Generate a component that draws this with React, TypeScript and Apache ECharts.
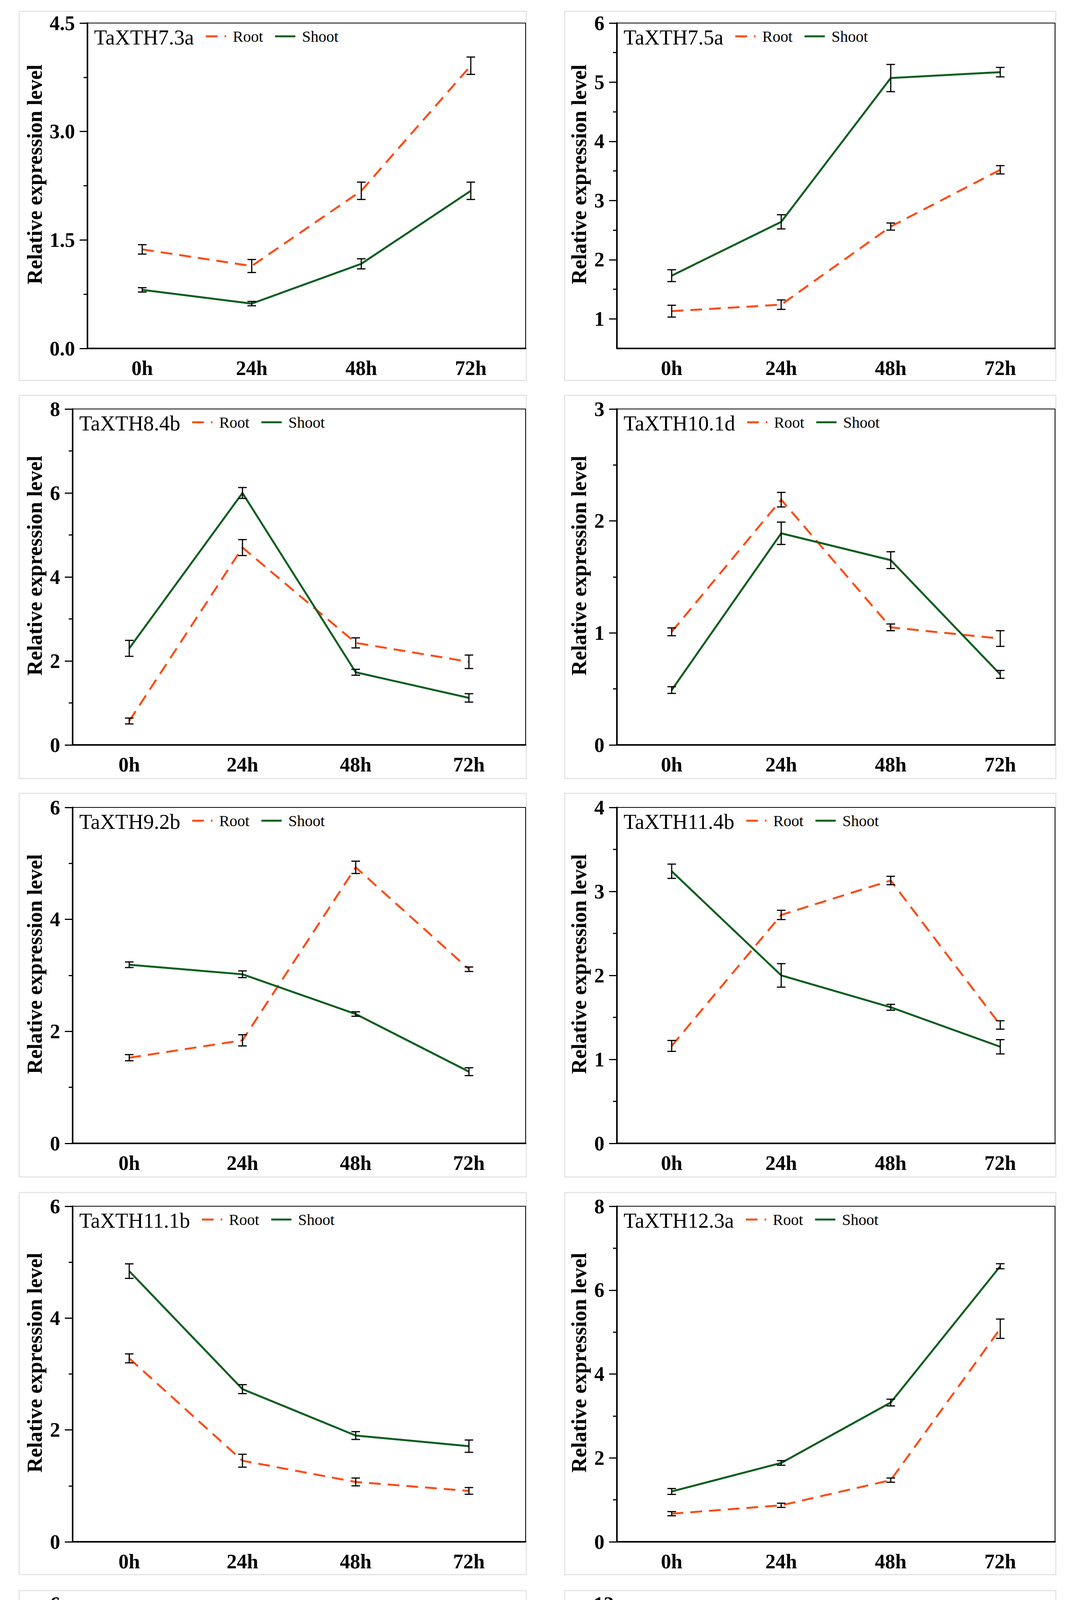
import React, { useEffect, useRef } from "react";
import * as echarts from "echarts";

// ---------- data ----------
const categories = ["0h", "24h", "48h", "72h"];
const seriesNames = ["Root", "Shoot"];

const root73a = [1.37, 1.14, 2.18, 3.91];
const rootErr73a = [0.065, 0.09, 0.12, 0.12];
const shoot73a = [0.81, 0.62, 1.17, 2.18];
const shootErr73a = [0.03, 0.03, 0.07, 0.12];
const major73a = [0, 1.5, 3, 4.5];
const minor73a = [0.75, 2.25, 3.75];

const root75a = [1.13, 1.24, 2.56, 3.52];
const rootErr75a = [0.1, 0.08, 0.06, 0.07];
const shoot75a = [1.73, 2.64, 5.07, 5.17];
const shootErr75a = [0.1, 0.12, 0.23, 0.08];
const major75a = [1, 2, 3, 4, 5, 6];
const minor75a = [1.5, 2.5, 3.5, 4.5, 5.5];

const root84b = [0.57, 4.7, 2.43, 1.98];
const rootErr84b = [0.07, 0.19, 0.12, 0.16];
const shoot84b = [2.3, 6.0, 1.73, 1.12];
const shootErr84b = [0.19, 0.13, 0.07, 0.1];
const major84b = [0, 2, 4, 6, 8];
const minor84b = [1, 3, 5, 7];

const root101d = [1.01, 2.19, 1.05, 0.95];
const rootErr101d = [0.035, 0.065, 0.03, 0.07];
const shoot101d = [0.49, 1.89, 1.65, 0.63];
const shootErr101d = [0.03, 0.1, 0.075, 0.035];
const major101d = [0, 1, 2, 3];
const minor101d = [0.5, 1.5, 2.5];

const root92b = [1.53, 1.84, 4.93, 3.11];
const rootErr92b = [0.055, 0.1, 0.11, 0.04];
const shoot92b = [3.19, 3.02, 2.31, 1.28];
const shootErr92b = [0.05, 0.06, 0.04, 0.07];
const major92b = [0, 2, 4, 6];
const minor92b = [1, 3, 5];

const root114b = [1.16, 2.72, 3.13, 1.41];
const rootErr114b = [0.065, 0.055, 0.05, 0.05];
const shoot114b = [3.24, 2.0, 1.62, 1.15];
const shootErr114b = [0.085, 0.14, 0.035, 0.085];
const major114b = [0, 1, 2, 3, 4];
const minor114b = [0.5, 1.5, 2.5, 3.5];

const root111b = [3.28, 1.45, 1.07, 0.91];
const rootErr111b = [0.08, 0.115, 0.07, 0.06];
const shoot111b = [4.84, 2.73, 1.9, 1.71];
const shootErr111b = [0.13, 0.08, 0.07, 0.11];
const major111b = [0, 2, 4, 6];
const minor111b = [1, 3, 5];

const root123a = [0.67, 0.87, 1.47, 5.08];
const rootErr123a = [0.05, 0.05, 0.05, 0.23];
const shoot123a = [1.2, 1.88, 3.32, 6.57];
const shootErr123a = [0.07, 0.055, 0.08, 0.06];
const major123a = [0, 2, 4, 6, 8];
const minor123a = [1, 3, 5, 7];

const root112a = [0.57, 1.61, 4.15, 2.79];
const rootErr112a = [0.055, 0.05, 0.17, 0.14];
const shoot112a = [1.7, 2.13, 5.03, 1.25];
const shootErr112a = [0.07, 0.075, 0.12, 0.08];
const major112a = [0, 2, 4, 6];
const minor112a = [1, 3, 5];

const root125a = [0.77, 2.4, 8.78, 2.99];
const rootErr125a = [0.06, 0.09, 0.17, 0.12];
const shoot125a = [1.63, 3.63, 11.15, 2.52];
const shootErr125a = [0.12, 0.12, 0.25, 0.16];
const major125a = [0, 3, 6, 9, 12];
const minor125a = [1.5, 4.5, 7.5, 10.5];

const panels = [
  { gene: "TaXTH7.3a", root: root73a, rootErr: rootErr73a, shoot: shoot73a, shootErr: shootErr73a, yMin: 0, yMax: 4.5, major: major73a, minor: minor73a, decimals: 1 },
  { gene: "TaXTH7.5a", root: root75a, rootErr: rootErr75a, shoot: shoot75a, shootErr: shootErr75a, yMin: 0.5, yMax: 6, major: major75a, minor: minor75a, decimals: 0 },
  { gene: "TaXTH8.4b", root: root84b, rootErr: rootErr84b, shoot: shoot84b, shootErr: shootErr84b, yMin: 0, yMax: 8, major: major84b, minor: minor84b, decimals: 0 },
  { gene: "TaXTH10.1d", root: root101d, rootErr: rootErr101d, shoot: shoot101d, shootErr: shootErr101d, yMin: 0, yMax: 3, major: major101d, minor: minor101d, decimals: 0 },
  { gene: "TaXTH9.2b", root: root92b, rootErr: rootErr92b, shoot: shoot92b, shootErr: shootErr92b, yMin: 0, yMax: 6, major: major92b, minor: minor92b, decimals: 0 },
  { gene: "TaXTH11.4b", root: root114b, rootErr: rootErr114b, shoot: shoot114b, shootErr: shootErr114b, yMin: 0, yMax: 4, major: major114b, minor: minor114b, decimals: 0 },
  { gene: "TaXTH11.1b", root: root111b, rootErr: rootErr111b, shoot: shoot111b, shootErr: shootErr111b, yMin: 0, yMax: 6, major: major111b, minor: minor111b, decimals: 0 },
  { gene: "TaXTH12.3a", root: root123a, rootErr: rootErr123a, shoot: shoot123a, shootErr: shootErr123a, yMin: 0, yMax: 8, major: major123a, minor: minor123a, decimals: 0 },
  { gene: "TaXTH11.2a", root: root112a, rootErr: rootErr112a, shoot: shoot112a, shootErr: shootErr112a, yMin: 0, yMax: 6, major: major112a, minor: minor112a, decimals: 0 },
  { gene: "TaXTH12.5a", root: root125a, rootErr: rootErr125a, shoot: shoot125a, shootErr: shootErr125a, yMin: 0, yMax: 12, major: major125a, minor: minor125a, decimals: 0 },
];

const yAxisTitle = "Relative expression level";

// ---------- layout ----------
const W = 2766;
const H = 5080;
const rowTop = [59, 1047, 2067, 3088, 4106];
const rowBottom = [892, 1907, 2927, 3947, 4967];
const boxTop = [29, 1012, 2031, 3053, 4072];
const boxBottom = [974, 1993, 3013, 4031, 5051];
const colBoxLeft = [49, 1446];
const colBoxRight = [1348, 2704];
const colPlotRight = [1346, 2702];
const colNameX = [89, 1483];
const plotLeftByPanel = [224, 1580, 186, 1580, 186, 1580, 186, 1580, 186, 1604];

const FONT = "Liberation Serif";
const ROOT_COLOR = "#FF4A12";
const SHOOT_COLOR = "#0A5E1E";

function measure(text: string, size: number, weight = "normal") {
  const c = document.createElement("canvas").getContext("2d");
  if (!c) return text.length * size * 0.5;
  c.font = `${weight} ${size}px "${FONT}"`;
  return c.measureText(text).width;
}

function errorRender(params: any, api: any) {
  const x = api.value(0);
  const m = api.value(1);
  const e = api.value(2);
  const top = api.coord([x, m + e]);
  const bot = api.coord([x, m - e]);
  const cx = top[0];
  const hw = 11;
  const style = { stroke: "#000", lineWidth: 3 };
  return {
    type: "group",
    children: [
      { type: "line", shape: { x1: cx, y1: top[1], x2: cx, y2: bot[1] }, style },
      { type: "line", shape: { x1: cx - hw, y1: top[1], x2: cx + hw, y2: top[1] }, style },
      { type: "line", shape: { x1: cx - hw, y1: bot[1], x2: cx + hw, y2: bot[1] }, style },
    ],
  };
}

function buildOption() {
  const grid: any[] = [];
  const xAxis: any[] = [];
  const yAxis: any[] = [];
  const series: any[] = [];
  const title: any[] = [];
  const legend: any[] = [];
  const graphic: any[] = [];

  panels.forEach((p, i) => {
    const row = Math.floor(i / 2);
    const col = i % 2;
    const left = plotLeftByPanel[i];
    const top = rowTop[row];
    const width = colPlotRight[col] - left;
    const height = rowBottom[row] - top;

    grid.push({
      left, top, width, height,
      show: true, borderColor: "#000", borderWidth: 2, backgroundColor: "transparent",
      containLabel: false,
    });

    xAxis.push({
      type: "category",
      gridIndex: i,
      data: categories,
      boundaryGap: true,
      axisLine: { onZero: false, lineStyle: { color: "#000", width: 4 } },
      axisTick: { alignWithLabel: true, length: 14, lineStyle: { color: "#000", width: 3 } },
      axisLabel: { fontFamily: FONT, fontWeight: "bold", fontSize: 52, color: "#000", margin: 24 },
      splitLine: { show: false },
    });

    yAxis.push({
      type: "value",
      gridIndex: i,
      position: "left",
      min: p.yMin,
      max: p.yMax,
      axisLine: { show: true, onZero: false, lineStyle: { color: "#000", width: 4 } },
      axisTick: { show: true, length: 20, customValues: p.major, lineStyle: { color: "#000", width: 3 } },
      axisLabel: {
        customValues: p.major,
        formatter: (v: number) => v.toFixed(p.decimals),
        fontFamily: FONT, fontWeight: "bold", fontSize: 52, color: "#000", margin: 32,
      },
      splitLine: { show: false },
    });
    yAxis.push({
      type: "value",
      gridIndex: i,
      position: "left",
      min: p.yMin,
      max: p.yMax,
      axisLine: { show: false },
      axisTick: { show: true, length: 10, customValues: p.minor, lineStyle: { color: "#000", width: 3 } },
      axisLabel: { show: false },
      splitLine: { show: false },
    });

    series.push({
      name: "Root", type: "line", xAxisIndex: i, yAxisIndex: 2 * i,
      data: p.root, symbol: "none", showSymbol: false, z: 3,
      lineStyle: { color: ROOT_COLOR, width: 5, type: [30, 18] },
      itemStyle: { color: ROOT_COLOR },
    });
    series.push({
      name: "Shoot", type: "line", xAxisIndex: i, yAxisIndex: 2 * i,
      data: p.shoot, symbol: "none", showSymbol: false, z: 3,
      lineStyle: { color: SHOOT_COLOR, width: 5, type: "solid" },
      itemStyle: { color: SHOOT_COLOR },
    });
    series.push({
      name: "Root SD", type: "custom", xAxisIndex: i, yAxisIndex: 2 * i, z: 5,
      renderItem: errorRender, encode: { x: 0, y: 1 },
      data: p.root.map((v, k) => [k, v, p.rootErr[k]]),
    });
    series.push({
      name: "Shoot SD", type: "custom", xAxisIndex: i, yAxisIndex: 2 * i, z: 5,
      renderItem: errorRender, encode: { x: 0, y: 1 },
      data: p.shoot.map((v, k) => [k, v, p.shootErr[k]]),
    });

    const titleLeft = left + 17;
    title.push({
      text: p.gene, left: titleLeft, top: top + 10, padding: 0,
      textStyle: { fontFamily: FONT, fontSize: 54, fontWeight: "normal", color: "#000" },
    });
    const tw = measure(p.gene, 54);
    legend.push({
      data: seriesNames,
      left: titleLeft + tw + 28,
      top: top + 14,
      padding: 0,
      itemWidth: 52,
      itemHeight: 20,
      itemGap: 28,
      selectedMode: false,
      itemStyle: { opacity: 0 },
      lineStyle: { width: 5 },
      textStyle: { fontFamily: FONT, fontSize: 40, color: "#000", padding: [0, 0, 0, 12] },
    });

    graphic.push({
      type: "rect", z: -10, silent: true,
      shape: { x: colBoxLeft[col], y: boxTop[row], width: colBoxRight[col] - colBoxLeft[col], height: boxBottom[row] - boxTop[row] },
      style: { fill: "transparent", stroke: "#e4e4e4", lineWidth: 3 },
    });
    graphic.push({
      type: "text", silent: true,
      x: colNameX[col], y: (top + rowBottom[row]) / 2 - 29,
      rotation: Math.PI / 2,
      style: {
        text: yAxisTitle, fontFamily: FONT, fontSize: 54, fontWeight: "bold", fill: "#000",
        align: "center", verticalAlign: "middle", textAlign: "center", textVerticalAlign: "middle",
      },
    });
  });

  return {
    animation: false,
    backgroundColor: "#fff",
    grid, xAxis, yAxis, series, title, legend, graphic,
  };
}

export default function App() {
  const ref = useRef<HTMLDivElement>(null);
  useEffect(() => {
    if (!ref.current) return;
    document.body.style.margin = "0";
    const chart = echarts.init(ref.current, undefined, { renderer: "svg", width: W, height: H });
    chart.setOption(buildOption() as any);
    return () => chart.dispose();
  }, []);
  return <div ref={ref} style={{ width: W, height: H, background: "#fff" }} />;
}
